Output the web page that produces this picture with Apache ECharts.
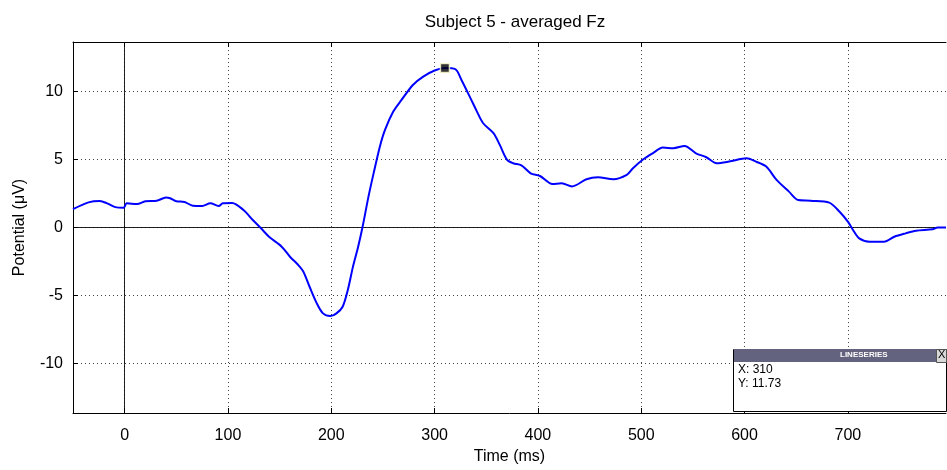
<!DOCTYPE html>
<html>
<head>
<meta charset="utf-8">
<script src="https://cdn.jsdelivr.net/npm/echarts@6/dist/echarts.min.js"></script>
<style>html,body{margin:0;padding:0;background:#fff;}#c{width:947px;height:470px;}</style>
</head>
<body>
<div id="c"></div>
<script>
const times = [-50,-35,-24,-17,-9,-1,2,12,20,31,40,44,50,58,66,75,83,91,95,104,115,124,132,140,152,160,168,173,179,186,192,199,205,211,216,221,226,230,236,241,247,252,260,268,279,289,300,310,320,326,334,341,347,357,363,370,376,384,393,402,414,423,433,447,458,473,486,492,502,511,521,531,542,553,563,573,585,602,611,621,631,643,652,664,682,692,700,705,711,721,735,745,756,766,782,787,795];
const potential = [1.35,1.85,1.95,1.78,1.5,1.46,1.78,1.73,1.93,1.97,2.2,2.15,1.93,1.88,1.6,1.58,1.78,1.58,1.78,1.8,1.29,0.55,-0.06,-0.7,-1.41,-2.15,-2.76,-3.25,-4.36,-5.58,-6.32,-6.52,-6.32,-5.83,-4.6,-2.88,-1.41,-0.06,2.27,4.0,5.95,7.18,8.53,9.39,10.49,11.1,11.55,11.73,11.65,10.86,9.63,8.53,7.67,6.94,6.1,5.0,4.73,4.57,3.99,3.79,3.2,3.25,3.02,3.55,3.7,3.55,3.87,4.36,5.02,5.46,5.88,5.83,6.0,5.46,5.17,4.73,4.85,5.09,4.85,4.48,3.5,2.64,2.02,1.97,1.83,1.16,0.43,-0.18,-0.8,-1.04,-1.04,-0.68,-0.43,-0.24,-0.13,0.0,0.0];
const xTicks = [0,100,200,300,400,500,600,700];
const yTicks = [-10,-5,0,5,10];
const peak = [310, 11.73];

const FONT = '"Liberation Sans", Arial, sans-serif';
const chart = echarts.init(document.getElementById('c'));
const gridStyle = {show:true, lineStyle:{color:'#444', type:[1,3], width:1}};
const xBase = {
  type:'value', min:-50, max:795,
  axisLine:{show:true, onZero:false, lineStyle:{color:'#000', width:1}},
  axisTick:{show:true, inside:true, length:5, customValues:xTicks, lineStyle:{color:'#000'}},
  splitLine:{show:false}
};
option = {
  animation:false,
  backgroundColor:'#fff',
  title:{text:'Subject 5 - averaged Fz', left:510, top:9, textAlign:'center',
    textStyle:{fontFamily:FONT, fontSize:17, fontWeight:'normal', color:'#000'}},
  grid:{left:73, right:1, top:42, bottom:57},
  xAxis:[
    Object.assign({}, xBase, {
      position:'bottom',
      name:'Time (ms)', nameLocation:'middle', nameGap:34,
      nameTextStyle:{fontFamily:FONT, fontSize:16, color:'#000'},
      axisLabel:{show:true, customValues:xTicks, margin:15, fontFamily:FONT, fontSize:16, color:'#000'},
      splitLine:gridStyle
    }),
    Object.assign({}, xBase, {position:'top', axisLabel:{show:false}})
  ],
  yAxis:[{
    type:'value', min:-13.65, max:13.65,
    name:'Potential (\u03bcV)', nameLocation:'middle', nameGap:45,
    nameTextStyle:{fontFamily:FONT, fontSize:16, color:'#000'},
    axisLine:{show:true, onZero:false, lineStyle:{color:'#000', width:1}},
    axisTick:{show:true, inside:true, length:5, customValues:yTicks, lineStyle:{color:'#000'}},
    axisLabel:{show:true, customValues:yTicks, margin:10, fontFamily:FONT, fontSize:16, color:'#000'},
    splitLine:gridStyle
  }],
  series:[
    {
      type:'line', xAxisIndex:0, yAxisIndex:0,
      data:times.map((t,i)=>[t,potential[i]]),
      showSymbol:false, smooth:0.3,
      lineStyle:{color:'#0000ff', width:2},
      z:3,
      markLine:{
        silent:true, symbol:'none', label:{show:false},
        lineStyle:{color:'#000', width:1, type:'solid', opacity:0.85},
        data:[{xAxis:0},{yAxis:0}],
        z:2
      }
    },
    {
      type:'scatter', xAxisIndex:0, yAxisIndex:0,
      data:[peak], symbol:'rect', symbolSize:9,
      itemStyle:{color:'#000', borderColor:'#ffffd0', borderWidth:1.5},
      z:5
    }
  ],
  graphic:[
    {type:'rect', left:733, top:349, z:100, shape:{width:213, height:62},
      style:{fill:'#fff', stroke:'#000', lineWidth:1}},
    {type:'rect', left:734, top:349, z:101, shape:{width:212, height:13},
      style:{fill:'#63637f'}},
    {type:'rect', left:936, top:349, z:102, shape:{width:10, height:13},
      style:{fill:'#d8d8d8', stroke:'#555'}},
    {type:'text', left:938, top:349, z:103,
      style:{text:'X', font:'11px ' + FONT, fill:'#000'}},
    {type:'text', left:840, top:351, z:103,
      style:{text:'LINESERIES', font:'bold 8px ' + FONT, fill:'#fff', textAlign:'center'}},
    {type:'text', left:738, top:364, z:103,
      style:{text:'X: ' + peak[0], font:'12px ' + FONT, fill:'#000'}},
    {type:'text', left:738, top:378, z:103,
      style:{text:'Y: ' + peak[1].toFixed(2), font:'12px ' + FONT, fill:'#000'}}
  ]
};
chart.setOption(option);
</script>
</body>
</html>
